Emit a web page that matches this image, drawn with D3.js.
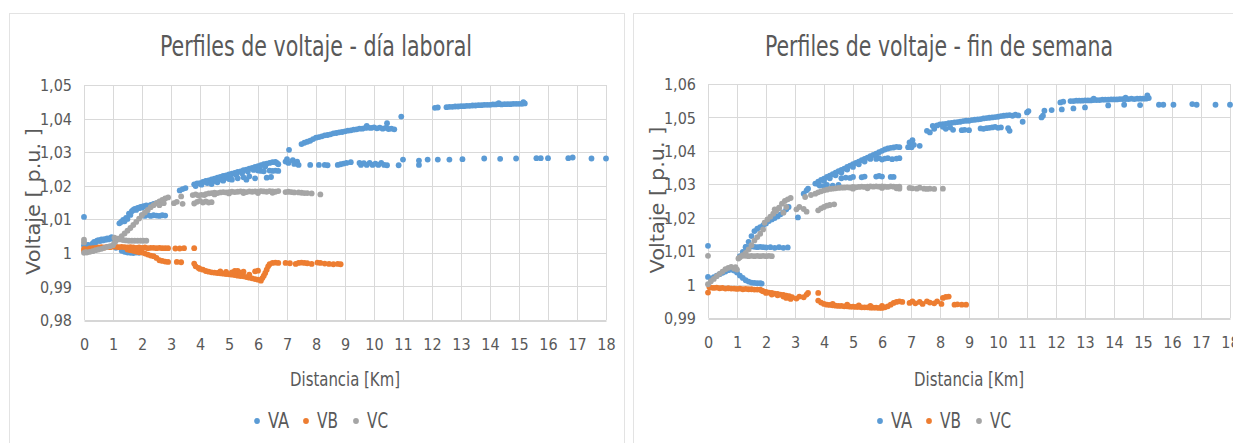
<!DOCTYPE html>
<html>
<head>
<meta charset="utf-8">
<script src="https://cdn.jsdelivr.net/npm/d3@7/dist/d3.min.js"></script>
<style>
  html, body { margin: 0; padding: 0; background: #ffffff; }
  svg { display: block; }
</style>
</head>
<body>
<svg id="chart" width="1233" height="443"></svg>
<script>
// ---- Axis ticks and labels ----
const xTicks = [0,1,2,3,4,5,6,7,8,9,10,11,12,13,14,15,16,17,18];
const yTicksLaboral = [0.98,0.99,1.00,1.01,1.02,1.03,1.04,1.05];
const yLabelsLaboral = ["0,98","0,99","1","1,01","1,02","1,03","1,04","1,05"];
const yTicksFinde = [0.99,1.00,1.01,1.02,1.03,1.04,1.05,1.06];
const yLabelsFinde = ["0,99","1","1,01","1,02","1,03","1,04","1,05","1,06"];
const seriesNames = ["VA","VB","VC"];

// ---- Día laboral: [distancia km, voltaje p.u.] ----
const laboralVA = [
  [0,1.0107],[0,1.0022],[0.05,1.0025],[0.1,1.0018],[0.15,1.0024],[0.2,1.002],[0.3,1.0028],[0.35,1.0033],[0.4,1.0031],
  [0.45,1.0036],[0.5,1.0038],[0.55,1.0035],[0.6,1.004],[0.65,1.0037],[0.7,1.0041],[0.75,1.0039],[0.8,1.0043],[0.85,1.004],
  [0.9,1.0044],[0.95,1.0047],[1.0,1.0041],[1.05,1.0026],[1.1,1.0015],
  [1.3,1.0006],[1.4,1.0003],[1.5,1.0001],[1.6,1.0],[1.7,0.9999],[1.8,1.0001],[1.9,1.0],
  [1.22,1.0088],[1.28,1.0092],[1.35,1.0098],[1.4,1.0094],[1.45,1.0104],[1.5,1.0101],[1.55,1.0117],[1.6,1.0113],[1.65,1.0124],
  [1.7,1.0128],[1.75,1.0131],[1.8,1.0128],[1.85,1.0134],[1.9,1.0133],[1.95,1.0137],[2.0,1.0135],[2.05,1.0139],[2.1,1.0138],
  [2.15,1.0141],[2.2,1.014],[2.3,1.0143],[2.4,1.0146],[2.5,1.0148],
  [2.0,1.0112],[2.1,1.011],[2.2,1.0113],[2.3,1.011],[2.4,1.0112],[2.5,1.0111],[2.6,1.011],[2.7,1.0112],[2.8,1.0111],
  [3.3,1.0186],[3.4,1.019],[3.5,1.0193],
  [3.8,1.0204],[3.9,1.0207],[4.0,1.0208],[4.1,1.0211],[4.2,1.0214],[4.3,1.0216],[4.4,1.0219],[4.5,1.0221],[4.6,1.0224],
  [4.7,1.0226],[4.8,1.0229],[4.9,1.0231],[5.0,1.0234],[5.1,1.0236],[5.2,1.0238],[5.3,1.0241],[5.4,1.0243],[5.5,1.0246],
  [5.6,1.0248],[5.7,1.0251],[5.8,1.0253],[5.9,1.0256],[6.0,1.0258],[6.1,1.0261],[6.2,1.0264],[6.3,1.0266],[6.4,1.0268],
  [6.5,1.027],[6.6,1.0271],
  [3.85,1.0199],[4.05,1.0203],[4.25,1.0208],[4.45,1.0213],[4.65,1.0218],[4.85,1.0222],[5.05,1.0227],[5.25,1.0232],
  [5.45,1.0237],[5.65,1.0242],[5.85,1.0247],[6.05,1.0252],[6.25,1.0257],
  [4.2,1.0212],[4.4,1.0205],[4.6,1.021],[4.8,1.0215],[5.0,1.022],[5.1,1.0218],[5.3,1.0222],[5.5,1.0225],[5.6,1.0218],
  [5.7,1.0228],[5.9,1.0222],[6.0,1.0245],[6.1,1.0244],[6.2,1.0243],[6.3,1.0224],[6.4,1.0245],[6.5,1.0244],[6.6,1.0245],
  [6.7,1.0244],[6.45,1.0226],[6.65,1.0268],[6.7,1.0264],
  [7.07,1.0307],[7.5,1.0324],[7.6,1.0328],[7.7,1.0331],[7.8,1.0334],[7.9,1.0339],[8.0,1.0343],[8.1,1.0345],[8.2,1.0347],
  [8.3,1.035],[8.4,1.0351],[8.5,1.0353],[8.6,1.0356],[8.7,1.0357],[8.8,1.0359],[8.9,1.036],[9.0,1.0362],[9.1,1.0364],
  [9.2,1.0365],[9.3,1.0367],[9.4,1.0368],[9.5,1.037],[9.6,1.037],[9.7,1.0372],[9.8,1.0373],[9.9,1.0372],[10.0,1.0374],
  [10.1,1.0371],[10.2,1.0373],[10.3,1.037],[10.4,1.0372],[10.5,1.0369],[10.6,1.037],[10.7,1.0368],
  [9.75,1.0378],[10.45,1.0386],[10.94,1.0406],
  [12.1,1.0432],[12.2,1.0433],[12.5,1.0434],[12.6,1.0435],[12.7,1.0435],[12.8,1.0436],[12.9,1.0436],[13.0,1.0437],
  [13.1,1.0437],[13.2,1.0438],[13.3,1.0438],[13.4,1.0439],[13.5,1.0439],[13.6,1.044],[13.7,1.044],[13.8,1.0441],
  [13.9,1.0441],[14.0,1.0441],[14.1,1.0442],[14.2,1.0442],[14.3,1.0443],[14.4,1.0442],[14.5,1.0443],[14.6,1.0443],
  [14.7,1.0443],[14.8,1.0444],[14.9,1.0444],[15.0,1.0444],[15.1,1.0444],[15.2,1.0445],[15.15,1.0449],[14.3,1.0446],
  [6.95,1.0272],[7.0,1.0279],[7.05,1.0268],[7.2,1.0276],[7.25,1.0265],[7.35,1.0272],[7.4,1.0262],[7.8,1.0262],[8.1,1.0262],
  [8.3,1.0262],[8.4,1.0261],[8.75,1.0262],[8.85,1.0264],[8.95,1.0266],[9.05,1.0268],[9.2,1.027],[9.5,1.0268],[9.55,1.0262],
  [9.65,1.0267],[9.75,1.0262],[9.85,1.0268],[9.95,1.0262],[10.05,1.0266],[10.15,1.0262],[10.25,1.0268],[10.35,1.0262],
  [10.45,1.0261],[10.85,1.0261],[11.0,1.0278],[11.55,1.0262],[11.55,1.0275],[11.85,1.0278],[12.2,1.0278],[12.6,1.0278],
  [13.05,1.0279],[13.8,1.0281],[14.35,1.028],[14.9,1.0281],[15.6,1.0282],[15.75,1.0282],[16.0,1.0282],[16.7,1.0282],
  [16.85,1.0284],[17.5,1.0281],[18.0,1.0281]
];
const laboralVB = [
  [0,1.0012],[0,1.0006],[0.1,1.001],[0.2,1.0013],[0.3,1.0014],[0.4,1.0015],[0.5,1.0016],[0.6,1.0017],[0.7,1.0016],
  [0.8,1.0018],[0.9,1.0017],[1.0,1.0019],[1.1,1.0018],[1.2,1.0017],[1.3,1.0018],[1.4,1.0017],[1.5,1.0016],[1.6,1.0017],
  [1.7,1.0016],[1.8,1.0015],[1.9,1.0016],[2.0,1.0015],[2.1,1.0016],[2.2,1.0014],[2.3,1.0015],[2.4,1.0015],[2.5,1.0014],
  [2.6,1.0015],[2.7,1.0014],[2.8,1.0014],[2.9,1.0014],[3.15,1.0013],[3.3,1.0013],[3.45,1.0014],[3.8,1.0014],
  [1.5,1.001],[1.6,1.0008],[1.7,1.0006],[1.8,1.0004],[1.9,1.0002],[2.0,1.0001],[2.1,0.9998],[2.2,0.9995],[2.3,0.9992],
  [2.4,0.999],[2.5,0.9985],[2.6,0.9978],[2.7,0.9976],[2.8,0.9974],[2.9,0.9973],[3.2,0.9973],[3.35,0.9972],
  [3.8,0.9968],[3.85,0.996],[3.95,0.9955],[4.0,0.9952],[4.1,0.995],[4.2,0.9946],[4.3,0.9944],[4.4,0.9942],[4.5,0.9941],
  [4.6,0.994],[4.7,0.9939],[4.8,0.9938],[4.9,0.9937],[5.0,0.9936],[5.1,0.9935],[5.2,0.9934],[5.3,0.9932],[5.4,0.9931],
  [5.5,0.993],[5.6,0.9928],[5.7,0.9926],[5.8,0.9924],[5.9,0.9922],[6.0,0.992],[6.1,0.9917],
  [4.7,0.9945],[4.9,0.9943],[5.1,0.9942],[5.2,0.9946],[5.3,0.9946],[5.4,0.9941],[5.5,0.9944],[5.7,0.9935],[5.9,0.9945],
  [6.0,0.9947],
  [6.15,0.9925],[6.2,0.9932],[6.25,0.994],[6.3,0.995],[6.35,0.996],[6.4,0.9966],[6.5,0.997],[6.6,0.9971],[6.7,0.997],
  [6.95,0.997],[7.1,0.9969],[7.3,0.9967],[7.4,0.997],[7.5,0.9971],[7.6,0.997],[7.7,0.9969],[7.85,0.9967],[8.05,0.9971],
  [8.15,0.997],[8.3,0.9968],[8.45,0.9967],[8.6,0.9966],[8.75,0.9967],[8.85,0.9966]
];
const laboralVC = [
  [0,1.0039],[0,1.0031],[0,1.0],[0.05,1.0002],[0.1,1.0001],[0.2,1.0003],[0.3,1.0005],[0.4,1.0008],[0.5,1.001],
  [0.6,1.0012],[0.7,1.0015],[0.8,1.0018],[0.9,1.002],[1.0,1.0023],
  [1.05,1.003],[1.1,1.0036],[1.2,1.0042],[1.3,1.005],[1.4,1.0058],[1.5,1.0066],[1.6,1.0074],[1.7,1.0083],[1.8,1.0092],
  [1.9,1.0102],[2.0,1.0112],[2.1,1.012],[2.2,1.0128],[2.3,1.0136],[2.4,1.0142],[2.5,1.0148],[2.6,1.0153],[2.7,1.0158],
  [2.8,1.0162],[2.9,1.0165],
  [1.05,1.0045],[1.15,1.0042],[1.25,1.004],[1.35,1.0038],[1.45,1.0037],[1.55,1.0036],[1.65,1.0036],[1.75,1.0036],
  [1.85,1.0036],[1.95,1.0036],[2.05,1.0036],[2.15,1.0036],
  [2.6,1.0142],[2.75,1.0148],[3.1,1.0148],[3.2,1.0152],[3.35,1.0168],[3.4,1.0146],
  [3.75,1.0172],[3.85,1.0174],[3.95,1.0171],[4.05,1.0173],[4.15,1.0172],[3.8,1.0147],[3.9,1.0152],[4.0,1.0155],
  [4.1,1.015],[4.2,1.0153],[4.3,1.015],[4.4,1.0151],
  [4.2,1.0175],[4.3,1.0177],[4.4,1.0178],[4.5,1.0179],[4.6,1.0178],[4.7,1.018],[4.8,1.0181],[4.9,1.018],[5.0,1.0181],
  [5.1,1.0182],[5.2,1.0181],[5.3,1.0182],[5.4,1.0183],[5.5,1.0182],[5.6,1.0181],[5.7,1.0183],[5.8,1.0182],[5.9,1.0183],
  [6.0,1.0182],[6.1,1.0184],[6.2,1.0183],[6.3,1.0182],[6.4,1.0184],[6.5,1.0183],[6.6,1.0182],[6.7,1.0184],
  [4.5,1.0174],[5.0,1.0177],[5.5,1.0178],[6.0,1.0178],[6.5,1.0179],
  [6.95,1.0181],[7.05,1.0182],[7.15,1.0181],[7.25,1.018],[7.4,1.018],[7.5,1.0179],[7.6,1.0178],[7.7,1.0178],
  [7.85,1.0177],[8.15,1.0174]
];

// ---- Fin de semana: [distancia km, voltaje p.u.] ----
const findeVA = [
  [0,1.0116],[0,1.0023],[0.1,1.0018],[0.2,1.0022],[0.3,1.0027],[0.4,1.0031],[0.5,1.0035],[0.6,1.0039],[0.7,1.0043],
  [0.8,1.0045],[0.9,1.0042],[1.0,1.0036],[1.1,1.0027],[1.2,1.002],[1.3,1.0013],[1.4,1.0009],[1.5,1.0006],[1.6,1.0005],
  [1.7,1.0004],[1.8,1.0004],[1.85,1.0003],
  [1.1,1.0085],[1.2,1.0098],[1.3,1.0112],[1.4,1.0128],[1.5,1.0145],[1.6,1.016],[1.7,1.0167],[1.8,1.0172],[1.9,1.0177],
  [2.0,1.0183],[2.1,1.019],[2.2,1.0195],[2.3,1.0199],[2.4,1.0204],[2.5,1.021],[2.6,1.0216],[2.7,1.0225],[2.78,1.0232],
  [1.3,1.0113],[1.4,1.0112],[1.5,1.0114],[1.6,1.0113],[1.7,1.0112],[1.8,1.0113],[1.9,1.0112],[2.0,1.0111],[2.15,1.0112],
  [2.3,1.011],[2.45,1.0112],[2.6,1.011],[2.75,1.0111],
  [3.1,1.0201],[3.3,1.0272],[3.4,1.0282],[3.45,1.0287],
  [3.7,1.0302],[3.8,1.0308],[3.9,1.0313],[4.0,1.0317],[4.1,1.0322],[4.2,1.0326],[4.3,1.033],[4.4,1.0335],[4.5,1.0339],
  [4.6,1.0343],[4.7,1.0347],[4.8,1.0352],[4.9,1.0356],[5.0,1.036],[5.1,1.0364],[5.2,1.0368],[5.3,1.0372],[5.4,1.0376],
  [5.5,1.038],[5.6,1.0384],[5.7,1.0388],[5.8,1.0392],[5.9,1.0396],[6.0,1.04],[6.1,1.0404],[6.2,1.0407],[6.3,1.0409],
  [6.4,1.041],[6.5,1.0412],[6.6,1.0411],
  [3.8,1.0301],[4.0,1.031],[4.2,1.0318],[4.4,1.0327],[4.6,1.0335],[4.8,1.0344],[5.0,1.0352],[5.2,1.036],[5.4,1.0368],
  [5.6,1.0376],[5.8,1.0383],
  [3.85,1.0296],[4.0,1.0294],[4.1,1.0298],[4.3,1.0296],[4.5,1.0298],[4.6,1.0318],[4.75,1.032],[4.9,1.0319],[5.0,1.0322],
  [5.3,1.0321],[5.4,1.0323],[5.8,1.0323],[5.9,1.0325],[6.0,1.0323],[6.3,1.0322],[6.4,1.0322],
  [5.8,1.0376],[5.9,1.0378],[6.0,1.0374],[6.1,1.0377],[6.2,1.0378],[6.35,1.0375],[6.5,1.0377],[6.6,1.0378],
  [6.9,1.0411],[6.95,1.0425],[7.05,1.0432],[7.02,1.0411],[7.3,1.0415],[7.1,1.0418],[7.55,1.046],[7.65,1.0455],
  [7.75,1.0475],[7.8,1.0466],
  [7.9,1.0476],[8.0,1.0479],[8.1,1.048],[8.2,1.0481],[8.3,1.0483],[8.4,1.0484],[8.5,1.0485],[8.6,1.0486],[8.7,1.0487],
  [8.8,1.0489],[8.9,1.049],[9.0,1.049],[9.1,1.0492],[9.2,1.0493],[9.3,1.0494],[9.4,1.0495],[9.5,1.0497],[9.6,1.0498],
  [9.7,1.0499],[9.8,1.05],[9.9,1.0501],[10.0,1.0502],[10.1,1.0504],[10.2,1.0505],[10.3,1.0506],[10.4,1.0507],
  [10.5,1.0505],[10.6,1.0508],[10.7,1.0506],
  [8.1,1.0472],[8.2,1.0466],[8.35,1.047],[8.45,1.0463],[8.75,1.0462],[8.85,1.0463],[9.0,1.0462],[9.4,1.0467],
  [9.5,1.0466],[9.6,1.0468],[9.7,1.0469],[9.8,1.047],[9.9,1.0472],[10.0,1.0469],[10.1,1.047],[10.35,1.0468],[10.4,1.046],
  [10.85,1.0487],[11.0,1.0515],[11.05,1.0519],[11.5,1.05],[11.55,1.0505],[11.6,1.052],[11.85,1.0522],[12.15,1.0545],
  [12.2,1.0524],[12.25,1.0547],[12.6,1.0527],[13.0,1.053],
  [12.5,1.0549],[12.6,1.0549],[12.7,1.055],[12.8,1.055],[12.9,1.055],[13.0,1.0551],[13.1,1.0551],[13.2,1.0551],
  [13.3,1.0552],[13.4,1.0552],[13.5,1.0552],[13.6,1.0553],[13.7,1.0553],[13.8,1.0553],[13.9,1.0554],[14.0,1.0554],
  [14.1,1.0554],[14.2,1.0555],[14.3,1.0555],[14.4,1.0555],[14.5,1.0555],[14.6,1.0556],[14.7,1.0555],[14.8,1.0556],
  [14.9,1.0556],[15.0,1.0556],[15.1,1.0556],[15.2,1.0558],[15.15,1.0566],[14.4,1.0559],[13.3,1.0556],
  [13.8,1.0536],[14.35,1.0538],[14.9,1.0537],[15.55,1.0538],[15.7,1.0538],[16.05,1.0538],[16.7,1.054],[16.85,1.0538],
  [17.5,1.0538],[18.0,1.0538]
];
const findeVB = [
  [0,0.9976],[0.05,0.9992],[0.1,0.9991],[0.2,0.999],[0.3,0.9991],[0.4,0.9989],[0.5,0.999],[0.6,0.9988],[0.7,0.9989],
  [0.8,0.9988],[0.9,0.9988],[1.0,0.9987],[1.1,0.9988],[1.2,0.9986],[1.3,0.9987],[1.4,0.9986],[1.5,0.9986],[1.6,0.9985],
  [1.7,0.9985],[1.8,0.9985],[1.85,0.9982],[1.9,0.998],[2.0,0.9978],[2.1,0.9976],[2.2,0.9975],[2.3,0.9973],[2.4,0.9972],
  [2.5,0.997],[2.6,0.9969],[2.7,0.9967],[2.8,0.9965],[2.9,0.9962],[2.0,0.9975],[2.2,0.997],[2.4,0.9968],[2.6,0.9964],
  [2.7,0.996],[2.85,0.9957],
  [3.05,0.9958],[3.15,0.9964],[3.3,0.9962],[3.4,0.997],[3.45,0.9975],[3.8,0.9975],
  [3.8,0.9952],[3.9,0.9946],[4.0,0.9942],[4.1,0.994],[4.2,0.9939],[4.3,0.9938],[4.4,0.9937],[4.5,0.9936],[4.6,0.9936],
  [4.7,0.9935],[4.8,0.9935],[4.9,0.9934],[5.0,0.9934],[5.1,0.9933],[5.2,0.9933],[5.3,0.9932],[5.4,0.9932],[5.5,0.9932],
  [5.6,0.9931],[5.7,0.9931],[5.8,0.9931],[5.9,0.993],[6.0,0.993],[6.1,0.9932],[6.2,0.9935],[6.3,0.994],[6.4,0.9945],
  [6.5,0.9948],[6.6,0.995],[6.7,0.9948],
  [4.3,0.9942],[4.8,0.994],[5.2,0.9938],[5.6,0.9936],[6.0,0.9936],
  [6.95,0.9945],[7.05,0.995],[7.15,0.9944],[7.3,0.9948],[7.4,0.9942],[7.55,0.995],[7.65,0.9946],[7.8,0.9944],[7.9,0.995],
  [8.05,0.9942],[8.1,0.996],[8.2,0.9963],[8.3,0.9964],[8.5,0.994],[8.6,0.9941],[8.75,0.994],[8.9,0.994]
];
const findeVC = [
  [0,1.0086],[0,1.0001],[0.1,1.001],[0.2,1.0017],[0.3,1.0025],[0.4,1.0032],[0.5,1.0039],[0.6,1.0046],[0.7,1.005],
  [0.8,1.0053],[0.9,1.0048],[1.0,1.0045],[0.95,1.0052],
  [1.05,1.0078],[1.1,1.0082],[1.2,1.0088],[1.3,1.0095],[1.4,1.0105],[1.5,1.0118],[1.6,1.0132],[1.7,1.0142],[1.8,1.0152],
  [1.9,1.0165],[1.95,1.0185],[2.05,1.0195],[2.15,1.0203],[2.25,1.0212],[2.35,1.022],[2.45,1.0228],[2.55,1.0242],
  [2.65,1.025],[2.75,1.0255],[2.85,1.0259],
  [1.2,1.0086],[1.3,1.0086],[1.4,1.0085],[1.5,1.0086],[1.6,1.0085],[1.7,1.0086],[1.8,1.0085],[1.9,1.0086],[2.0,1.0085],
  [2.1,1.0086],[2.2,1.0085],
  [2.3,1.0225],[2.45,1.023],[2.6,1.0215],[2.7,1.0232],[3.05,1.0225],[3.15,1.0232],[3.3,1.0226],[3.4,1.0218],[3.8,1.0222],
  [3.9,1.0228],[4.0,1.0232],[4.1,1.0236],[4.2,1.0238],[4.35,1.024],
  [3.35,1.0262],[3.55,1.0268],[3.7,1.0272],[3.8,1.0276],[3.9,1.0279],[4.0,1.0282],[4.1,1.0284],[4.2,1.0286],[4.3,1.0287],
  [4.4,1.0288],[4.5,1.0289],[4.6,1.029],
  [4.7,1.029],[4.8,1.0291],[4.9,1.029],[5.0,1.0292],[5.1,1.0291],[5.2,1.0292],[5.3,1.0293],[5.4,1.0292],[5.5,1.0293],
  [5.6,1.0294],[5.7,1.0293],[5.8,1.0294],[5.9,1.0293],[6.0,1.0294],[6.1,1.0293],[6.2,1.0292],[6.3,1.0294],[6.4,1.0293],
  [6.5,1.0292],[6.6,1.0293],[5.0,1.0287],[5.5,1.0288],[6.0,1.0289],[6.5,1.0288],[6.6,1.0287],
  [6.95,1.0289],[7.05,1.0288],[7.2,1.0287],[7.3,1.029],[7.45,1.0287],[7.55,1.0286],[7.65,1.0287],[7.8,1.0286],[8.1,1.0287]
];

// ---- Styling ----
const colors = { VA: "#5b9bd5", VB: "#ed7d31", VC: "#a5a5a5" };
const textColor = "#595959";
const gridColor = "#d9d9d9";
const narrowFont = "'Liberation Sans Narrow', 'DejaVu Sans Condensed', 'Open Sans', sans-serif";
const markerR = 2.9;

const svg = d3.select("#chart");

const panels = [
  {
    title: "Perfiles de voltaje - día laboral",
    card: { x: 9, y: 13, w: 615, h: 440 },
    plot: { left: 84, right: 606, top: 85, bottom: 320 },
    yTicks: yTicksLaboral, yLabels: yLabelsLaboral,
    series: { VA: laboralVA, VB: laboralVB, VC: laboralVC },
    titleX: 316, titleW: 312,
    yTitleX: 33, legendDots: [257, 306, 356]
  },
  {
    title: "Perfiles de voltaje - fin de semana",
    card: { x: 633, y: 13, w: 620, h: 440 },
    plot: { left: 708, right: 1230, top: 84, bottom: 318 },
    yTicks: yTicksFinde, yLabels: yLabelsFinde,
    series: { VA: findeVA, VB: findeVB, VC: findeVC },
    titleX: 939, titleW: 348,
    yTitleX: 657, legendDots: [880, 929, 979]
  }
];

panels.forEach(p => {
  const g = svg.append("g");

  // card outline
  g.append("rect")
    .attr("x", p.card.x + 0.5).attr("y", p.card.y + 0.5)
    .attr("width", p.card.w).attr("height", p.card.h)
    .attr("fill", "#ffffff").attr("stroke", "#e3e3e3").attr("stroke-width", 1);

  const x = d3.scaleLinear().domain([0, 18]).range([p.plot.left, p.plot.right]);
  const y = d3.scaleLinear().domain(d3.extent(p.yTicks)).range([p.plot.bottom, p.plot.top]);

  // gridlines
  g.append("g").selectAll("line").data(xTicks).join("line")
    .attr("x1", d => Math.round(x(d)) + 0.5).attr("x2", d => Math.round(x(d)) + 0.5)
    .attr("y1", p.plot.top).attr("y2", p.plot.bottom)
    .attr("stroke", gridColor).attr("stroke-width", 1);
  g.append("g").selectAll("line").data(p.yTicks.slice(1)).join("line")
    .attr("x1", p.plot.left).attr("x2", p.plot.right)
    .attr("y1", d => Math.round(y(d)) + 0.5).attr("y2", d => Math.round(y(d)) + 0.5)
    .attr("stroke", gridColor).attr("stroke-width", 1);

  // x axis
  const xAxis = d3.axisBottom(x).tickValues(xTicks).tickSize(0).tickPadding(0).tickFormat(d3.format("d"));
  const gx = g.append("g").attr("transform", `translate(0,${Math.round(p.plot.bottom) + 0.5})`).call(xAxis);
  gx.select(".domain").attr("stroke", "#c9c9c9").attr("stroke-width", 1.5);
  gx.selectAll("text")
    .attr("y", 29).attr("dy", 0)
    .attr("fill", textColor).attr("font-family", narrowFont).attr("font-size", 16);

  // y axis
  const yAxis = d3.axisLeft(y).tickValues(p.yTicks).tickSize(0).tickPadding(0)
    .tickFormat((d, i) => p.yLabels[i]);
  const gy = g.append("g").attr("transform", `translate(${p.plot.left - 12},0)`).call(yAxis);
  gy.select(".domain").remove();
  gy.selectAll("text")
    .attr("fill", textColor).attr("font-family", narrowFont).attr("font-size", 16)
    .attr("dy", "0.35em");

  // points: VA, VB, VC in drawing order
  seriesNames.forEach(name => {
    g.append("g").selectAll("circle").data(p.series[name]).join("circle")
      .attr("cx", d => x(d[0])).attr("cy", d => y(d[1]))
      .attr("r", markerR).attr("fill", colors[name]);
  });

  // title
  g.append("text")
    .attr("x", p.titleX).attr("y", 56).attr("text-anchor", "middle")
    .attr("fill", textColor).attr("font-family", narrowFont).attr("font-size", 28)
    .attr("textLength", p.titleW).attr("lengthAdjust", "spacingAndGlyphs")
    .text(p.title);

  // y axis title
  g.append("text")
    .attr("transform", `translate(${p.yTitleX},${(p.plot.top + p.plot.bottom) / 2 - 1}) rotate(-90)`)
    .attr("text-anchor", "middle").attr("dy", "0.35em")
    .attr("fill", textColor).attr("font-family", "'DejaVu Sans', Verdana, sans-serif").attr("font-size", 19)
    .attr("textLength", 147).attr("lengthAdjust", "spacingAndGlyphs")
    .text("Voltaje [ p.u. ]");

  // x axis title
  g.append("text")
    .attr("x", (p.plot.left + p.plot.right) / 2).attr("y", 386).attr("text-anchor", "middle")
    .attr("fill", textColor).attr("font-family", narrowFont).attr("font-size", 20)
    .attr("textLength", 110).attr("lengthAdjust", "spacingAndGlyphs")
    .text("Distancia [Km]");

  // legend
  const lg = g.append("g");
  seriesNames.forEach((name, i) => {
    const cx = p.legendDots[i];
    lg.append("circle").attr("cx", cx).attr("cy", 421).attr("r", markerR).attr("fill", colors[name]);
    lg.append("text").attr("x", cx + 11).attr("y", 428)
      .attr("fill", textColor).attr("font-family", narrowFont).attr("font-size", 21)
      .attr("textLength", 21).attr("lengthAdjust", "spacingAndGlyphs")
      .text(name);
  });
});
</script>
</body>
</html>
